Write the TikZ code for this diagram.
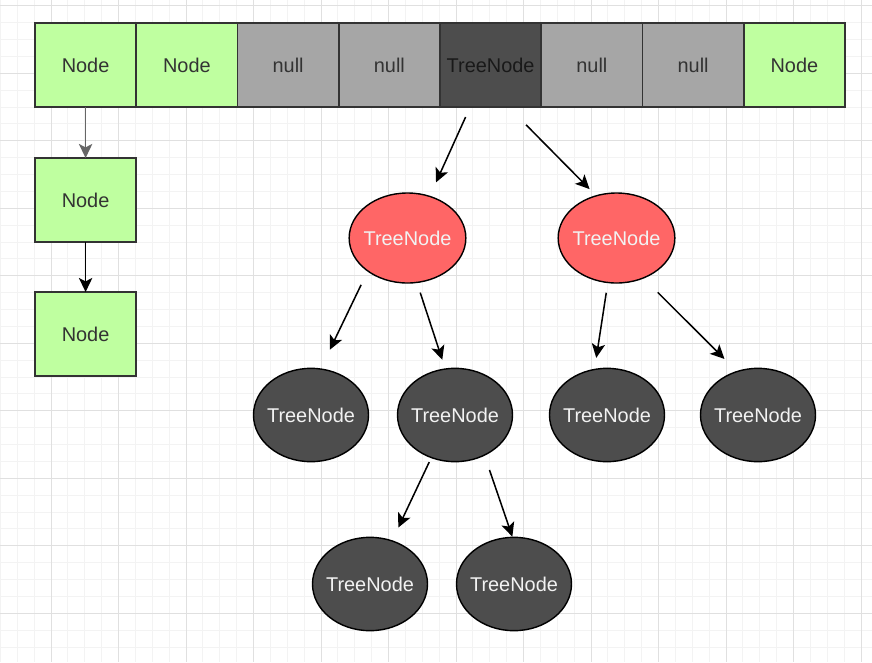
\documentclass[tikz,border=0pt]{standalone}
\usepackage{fontspec}
\setmainfont{Liberation Sans}
\usetikzlibrary{arrows.meta,positioning,shapes.geometric}
\definecolor{cgreen}{RGB}{191,255,160}
\definecolor{cnull}{RGB}{166,166,166}
\definecolor{cdark}{RGB}{77,77,77}
\definecolor{cred}{RGB}{255,102,102}
\definecolor{cline}{RGB}{51,51,51}
\definecolor{gmaj}{RGB}{224,224,224}
\definecolor{gmin}{RGB}{243,243,243}

\begin{document}
\begin{tikzpicture}[
  x=0.03cm,y=-0.03cm,
  font=\fontsize{17}{20}\selectfont,
  cell/.style={draw=cline,line width=1.4pt,minimum width=3.0375cm,minimum height=2.52cm,
    inner sep=0pt,outer sep=0pt,text=cline},
  gcell/.style={cell,fill=cgreen},
  ncell/.style={cell,fill=cnull},
  tcell/.style={cell,fill=cdark,text=black!90},
  tnode/.style={ellipse,draw=black,line width=1.2pt,minimum width=3.45cm,minimum height=2.8cm,
    inner xsep=-0.15cm,inner ysep=0pt,text=white!95!black},
  rnode/.style={tnode,fill=cred,minimum width=3.5cm,minimum height=2.7cm},
  dnode/.style={tnode,fill=cdark},
  arr/.style={-{Stealth[length=0.42cm,width=0.4cm,inset=0.1cm]},line width=1.3pt},
  garr/.style={arr,draw=black!60,fill=black!60},
  gminor/.style={gmin,line width=0.8pt},
  gmajor/.style={gmaj,line width=0.8pt}
]
\fill[white] (0,0) rectangle (872,662);
\useasboundingbox (0,0) rectangle (872,662);
\foreach \i in {0,...,51} \draw[gminor] ({0.375+16.875*\i},0) -- ++(0,662);
\foreach \j in {0,...,38} \draw[gminor] (0,{5.8+16.875*\j}) -- ++(872,0);
\foreach \i in {0,...,12} \draw[gmajor] ({51+67.5*\i},0) -- ++(0,662);
\foreach \j in {0,...,9} \draw[gmajor] (0,{5.8+67.5*\j}) -- ++(872,0);

\node[gcell] (c1) at (85.6,65) {Node};
\node[gcell,right=0pt of c1] (c2) {Node};
\node[ncell,right=0pt of c2] (c3) {null};
\node[ncell,right=0pt of c3] (c4) {null};
\node[tcell,right=0pt of c4] (c5) {TreeNode};
\node[ncell,right=0pt of c5] (c6) {null};
\node[ncell,right=0pt of c6] (c7) {null};
\node[gcell,right=0pt of c7] (c8) {Node};
\node[gcell,below=1.53cm of c1] (l1) {Node};
\node[gcell,below=1.5cm of l1] (l2) {Node};

\node[rnode] (rl) at (407.5,238) {TreeNode};
\node[rnode] (rr) at (616.5,238) {TreeNode};
\node[dnode] (d1) at (311,415) {TreeNode};
\node[dnode] (d2) at (455,415) {TreeNode};
\node[dnode] (d3) at (607,415) {TreeNode};
\node[dnode] (d4) at (758,415) {TreeNode};
\node[dnode] (e1) at (370,584) {TreeNode};
\node[dnode] (e2) at (514,584) {TreeNode};

\draw[garr] (c1)--(l1);
\draw[arr] (l1)--(l2);
\draw[arr,shorten <=0.33cm,shorten >=0.44cm] (c5.-116)--(rl.62.4);
\draw[arr,shorten <=0.75cm,shorten >=0.26cm] (c5.-67.4)--(rr.116.6);
\draw[arr,shorten <=0.44cm,shorten >=0.62cm] (rl.-140.6)--(d1.78.8);
\draw[arr,shorten <=0.3cm,shorten >=0.27cm] (rl.-78.4)--(d2.102.3);
\draw[arr,shorten <=0.29cm,shorten >=0.33cm] (rr.-101.2)--(d3.105.4);
\draw[arr,shorten <=0.59cm,shorten >=0.51cm] (rr.-56.1)--(d4.116.6);
\draw[arr,shorten <=0.13cm,shorten >=0.42cm] (d2.-119.3)--(e1.63);
\draw[arr,shorten <=0.45cm] (d2.-54.5)--(e2.92.4);
\end{tikzpicture}
\end{document}
